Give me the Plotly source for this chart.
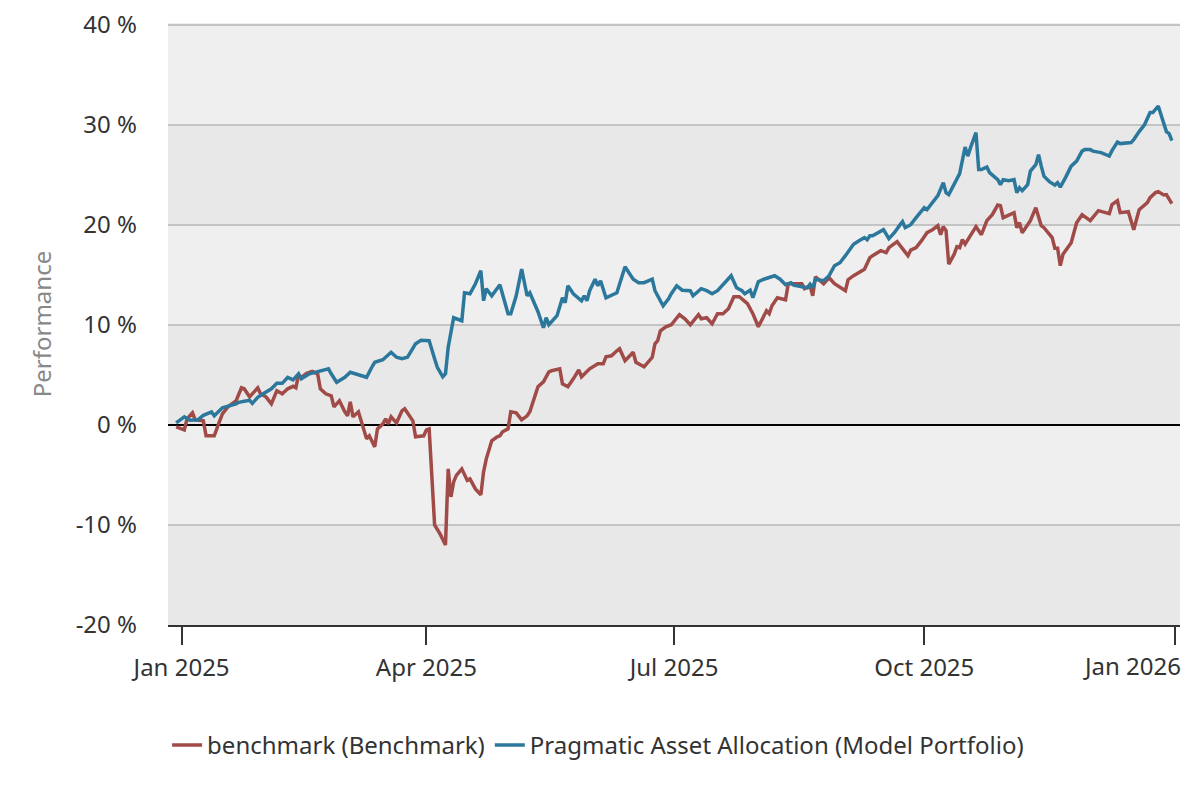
import plotly.graph_objects as go

# benchmark (Benchmark)
bench_dates = [
    "2024-12-30", "2025-01-02", "2025-01-03", "2025-01-05", "2025-01-06", "2025-01-09",
    "2025-01-10", "2025-01-13", "2025-01-15", "2025-01-16", "2025-01-18", "2025-01-21",
    "2025-01-23", "2025-01-24", "2025-01-26", "2025-01-29", "2025-01-30", "2025-02-01",
    "2025-02-03", "2025-02-04", "2025-02-05", "2025-02-07", "2025-02-09", "2025-02-11",
    "2025-02-12", "2025-02-13", "2025-02-14", "2025-02-16", "2025-02-18", "2025-02-20",
    "2025-02-21", "2025-02-23", "2025-02-25", "2025-02-26", "2025-02-28", "2025-03-02",
    "2025-03-03", "2025-03-04", "2025-03-05", "2025-03-07", "2025-03-08", "2025-03-09",
    "2025-03-10", "2025-03-11", "2025-03-13", "2025-03-14", "2025-03-16", "2025-03-17",
    "2025-03-18", "2025-03-19", "2025-03-21", "2025-03-23", "2025-03-24", "2025-03-27",
    "2025-03-28", "2025-03-31", "2025-04-01", "2025-04-02", "2025-04-04", "2025-04-06",
    "2025-04-08", "2025-04-09", "2025-04-10", "2025-04-11", "2025-04-12", "2025-04-14",
    "2025-04-16", "2025-04-17", "2025-04-19", "2025-04-21", "2025-04-22", "2025-04-23",
    "2025-04-25", "2025-04-27", "2025-04-28", "2025-04-29", "2025-05-01", "2025-05-02",
    "2025-05-04", "2025-05-06", "2025-05-08", "2025-05-09", "2025-05-12", "2025-05-14",
    "2025-05-16", "2025-05-17", "2025-05-20", "2025-05-21", "2025-05-23", "2025-05-25",
    "2025-05-27", "2025-05-28", "2025-05-29", "2025-05-31", "2025-06-03", "2025-06-05",
    "2025-06-06", "2025-06-08", "2025-06-10", "2025-06-11", "2025-06-13", "2025-06-16",
    "2025-06-17", "2025-06-20", "2025-06-23", "2025-06-24", "2025-06-25", "2025-06-26",
    "2025-06-28", "2025-06-30", "2025-07-03", "2025-07-05", "2025-07-07", "2025-07-10",
    "2025-07-11", "2025-07-13", "2025-07-15", "2025-07-17", "2025-07-19", "2025-07-21",
    "2025-07-23", "2025-07-25", "2025-07-28", "2025-07-30", "2025-08-01", "2025-08-04",
    "2025-08-05", "2025-08-06", "2025-08-08", "2025-08-11", "2025-08-12", "2025-08-15",
    "2025-08-17", "2025-08-18", "2025-08-20", "2025-08-21", "2025-08-22", "2025-08-25",
    "2025-08-27", "2025-08-29", "2025-08-31", "2025-09-02", "2025-09-03", "2025-09-05",
    "2025-09-09", "2025-09-11", "2025-09-12", "2025-09-15", "2025-09-17", "2025-09-18",
    "2025-09-21", "2025-09-23", "2025-09-25", "2025-09-26", "2025-09-28", "2025-09-30",
    "2025-10-02", "2025-10-04", "2025-10-06", "2025-10-07", "2025-10-08", "2025-10-09",
    "2025-10-10", "2025-10-12", "2025-10-13", "2025-10-14", "2025-10-15", "2025-10-16",
    "2025-10-20", "2025-10-22", "2025-10-24", "2025-10-26", "2025-10-28", "2025-10-29",
    "2025-10-30", "2025-11-03", "2025-11-04", "2025-11-05", "2025-11-06", "2025-11-09",
    "2025-11-11", "2025-11-13", "2025-11-14", "2025-11-17", "2025-11-18", "2025-11-19",
    "2025-11-20", "2025-11-21", "2025-11-24", "2025-11-26", "2025-11-28", "2025-12-01",
    "2025-12-04", "2025-12-08", "2025-12-09", "2025-12-11", "2025-12-12", "2025-12-15",
    "2025-12-17", "2025-12-19", "2025-12-22", "2025-12-23", "2025-12-25", "2025-12-26",
    "2025-12-28", "2025-12-29", "2025-12-31",
]
bench_perf = [
    -0.2, -0.5, 0.6, 1.2, 0.5, 0.4,
    -1.1, -1.1, 0.4, 1.1, 1.8, 2.4,
    3.7, 3.6, 2.8, 3.7, 3.1, 2.8,
    2.1, 2.8, 3.4, 3.1, 3.6, 3.85,
    3.7, 5.0, 4.75, 5.15, 5.35, 5.1,
    3.6, 3.1, 2.9, 1.8, 2.4, 1.3,
    0.9, 2.3, 0.8, 1.3, 0.4, -0.4,
    -1.4, -1.1, -2.2, -0.4, 0.1, 0.6,
    0.1, 0.8, 0.2, 1.4, 1.6, 0.4,
    -1.2, -1.1, -0.5, -0.4, -10.0, -10.9,
    -12.0, -4.4, -7.2, -5.7, -5.05, -4.4,
    -5.55, -5.4, -6.4, -7.0, -4.7, -3.4,
    -1.6, -1.2, -1.1, -0.7, -0.4, 1.3,
    1.2, 0.5, 0.9, 1.3, 3.8, 4.3,
    5.3, 5.4, 5.6, 4.1, 3.8, 4.6,
    5.5, 4.8, 5.1, 5.6, 6.1, 6.1,
    6.8, 6.9, 7.4, 7.6, 6.4, 7.25,
    6.25, 5.8, 6.75, 8.1, 8.4, 9.4,
    9.8, 10.0, 11.0, 10.6, 10.0, 11.0,
    10.6, 10.7, 10.1, 11.1, 11.1, 11.6,
    12.8, 12.8, 12.1, 11.1, 9.8, 11.4,
    11.1, 11.9, 12.7, 12.5, 14.1, 14.1,
    14.1, 13.6, 13.9, 12.9, 14.8, 14.1,
    14.7, 14.1, 13.7, 13.4, 14.5, 14.9,
    15.55, 16.7, 16.9, 17.4, 17.2, 17.7,
    18.3, 17.6, 16.9, 17.45, 17.7, 18.4,
    19.2, 19.5, 19.9, 19.0, 19.8, 19.4,
    16.05, 17.05, 17.8, 17.7, 18.5, 18.05,
    19.8, 19.0, 20.4, 21.0, 21.96, 21.9,
    20.7, 21.2, 19.7, 20.2, 19.2, 20.4,
    21.7, 19.9, 19.7, 18.7, 17.65, 17.65,
    15.9, 17.05, 18.2, 20.2, 21.0, 20.4,
    21.4, 21.1, 22.0, 22.4, 21.2, 21.3,
    19.5, 21.5, 22.2, 22.7, 23.2, 23.3,
    22.96, 23.0, 22.1,
]

# Pragmatic Asset Allocation (Model Portfolio)
model_dates = [
    "2024-12-30", "2025-01-02", "2025-01-04", "2025-01-07", "2025-01-09", "2025-01-12",
    "2025-01-13", "2025-01-16", "2025-01-21", "2025-01-22", "2025-01-24", "2025-01-26",
    "2025-01-27", "2025-01-29", "2025-01-31", "2025-02-01", "2025-02-03", "2025-02-05",
    "2025-02-07", "2025-02-09", "2025-02-11", "2025-02-13", "2025-02-14", "2025-02-17",
    "2025-02-21", "2025-02-24", "2025-02-25", "2025-02-27", "2025-03-02", "2025-03-04",
    "2025-03-07", "2025-03-10", "2025-03-12", "2025-03-13", "2025-03-16", "2025-03-19",
    "2025-03-21", "2025-03-23", "2025-03-25", "2025-03-28", "2025-03-30", "2025-04-02",
    "2025-04-04", "2025-04-05", "2025-04-07", "2025-04-08", "2025-04-09", "2025-04-11",
    "2025-04-12", "2025-04-14", "2025-04-15", "2025-04-17", "2025-04-19", "2025-04-21",
    "2025-04-22", "2025-04-23", "2025-04-25", "2025-04-28", "2025-05-01", "2025-05-02",
    "2025-05-04", "2025-05-06", "2025-05-08", "2025-05-09", "2025-05-12", "2025-05-14",
    "2025-05-15", "2025-05-16", "2025-05-19", "2025-05-21", "2025-05-22", "2025-05-23",
    "2025-05-25", "2025-05-28", "2025-05-29", "2025-05-30", "2025-05-31", "2025-06-02",
    "2025-06-03", "2025-06-04", "2025-06-06", "2025-06-10", "2025-06-13", "2025-06-16",
    "2025-06-18", "2025-06-20", "2025-06-23", "2025-06-24", "2025-06-27", "2025-06-29",
    "2025-06-30", "2025-07-02", "2025-07-04", "2025-07-07", "2025-07-08", "2025-07-11",
    "2025-07-13", "2025-07-15", "2025-07-17", "2025-07-19", "2025-07-22", "2025-07-24",
    "2025-07-26", "2025-07-27", "2025-07-29", "2025-07-30", "2025-08-01", "2025-08-03",
    "2025-08-07", "2025-08-09", "2025-08-11", "2025-08-13", "2025-08-14", "2025-08-19",
    "2025-08-20", "2025-08-21", "2025-08-22", "2025-08-25", "2025-08-27", "2025-08-29",
    "2025-08-31", "2025-09-02", "2025-09-03", "2025-09-05", "2025-09-07", "2025-09-09",
    "2025-09-10", "2025-09-11", "2025-09-12", "2025-09-15", "2025-09-16", "2025-09-18",
    "2025-09-20", "2025-09-22", "2025-09-23", "2025-09-24", "2025-09-26", "2025-09-28",
    "2025-09-30", "2025-10-01", "2025-10-02", "2025-10-04", "2025-10-06", "2025-10-08",
    "2025-10-09", "2025-10-10", "2025-10-12", "2025-10-14", "2025-10-16", "2025-10-17",
    "2025-10-18", "2025-10-20", "2025-10-21", "2025-10-22", "2025-10-24", "2025-10-25",
    "2025-10-28", "2025-10-29", "2025-10-30", "2025-11-01", "2025-11-03", "2025-11-04",
    "2025-11-05", "2025-11-06", "2025-11-08", "2025-11-09", "2025-11-11", "2025-11-12",
    "2025-11-13", "2025-11-14", "2025-11-16", "2025-11-18", "2025-11-19", "2025-11-20",
    "2025-11-22", "2025-11-24", "2025-11-26", "2025-11-28", "2025-11-29", "2025-12-01",
    "2025-12-02", "2025-12-05", "2025-12-08", "2025-12-09", "2025-12-11", "2025-12-12",
    "2025-12-16", "2025-12-17", "2025-12-19", "2025-12-21", "2025-12-23", "2025-12-24",
    "2025-12-26", "2025-12-28", "2025-12-29", "2025-12-30", "2025-12-31",
]
model_perf = [
    0.2, 0.8, 0.45, 0.5, 0.95, 1.3,
    0.9, 1.7, 2.1, 2.25, 2.35, 2.45,
    2.15, 2.75, 3.1, 3.25, 3.6, 4.15,
    4.15, 4.75, 4.5, 5.1, 4.6, 5.1,
    5.4, 5.6, 5.1, 4.25, 4.75, 5.25,
    5.0, 4.75, 5.8, 6.25, 6.5, 7.25,
    6.75, 6.6, 6.75, 8.1, 8.45, 8.4,
    6.6, 5.75, 4.8, 5.1, 7.75, 10.7,
    10.6, 10.4, 13.2, 13.1, 14.1, 15.4,
    12.4, 13.6, 12.9, 14.0, 11.1, 11.1,
    12.9, 15.55, 12.9, 13.2, 11.3, 9.7,
    10.7, 10.0, 10.9, 12.7, 12.2, 13.9,
    13.1, 12.4, 12.9, 12.4, 13.4, 14.55,
    13.9, 14.4, 12.7, 13.2, 15.8, 14.55,
    14.2, 14.2, 14.55, 13.4, 11.9, 12.6,
    13.1, 13.9, 13.45, 13.4, 12.9, 13.6,
    13.4, 13.1, 13.4, 14.05, 14.9, 13.7,
    13.4, 13.1, 13.45, 12.7, 14.3, 14.55,
    14.9, 14.55, 14.0, 14.2, 13.95, 13.7,
    14.05, 13.7, 14.55, 14.4, 14.9, 15.9,
    16.2, 16.9, 17.3, 18.05, 18.4, 18.7,
    18.5, 18.9, 18.9, 19.3, 19.5, 18.6,
    19.2, 19.95, 20.3, 19.7, 20.0, 20.7,
    21.4, 21.7, 21.5, 22.2, 22.9, 24.2,
    23.2, 23.0, 24.0, 25.1, 27.75, 26.85,
    27.7, 29.2, 25.5, 25.5, 25.75, 25.2,
    24.5, 24.0, 24.5, 24.4, 24.5, 23.2,
    23.7, 23.4, 24.0, 25.35, 26.0, 27.0,
    25.85, 24.85, 24.3, 23.95, 24.2, 23.75,
    24.75, 25.85, 26.35, 27.35, 27.5, 27.5,
    27.35, 27.2, 26.85, 27.4, 28.25, 28.1,
    28.2, 28.5, 29.3, 30.0, 31.2, 31.2,
    31.85, 30.2, 29.3, 29.1, 28.4,
]

y_ticks = [-20, -10, 0, 10, 20, 30, 40]
y_labels = ["-20 %", "-10 %", "0 %", "10 %", "20 %", "30 %", "40 %"]
x_ticks = ["2025-01-01", "2025-04-01", "2025-07-01", "2025-10-01", "2026-01-01"]
x_labels = ["Jan 2025", "Apr 2025", "Jul 2025", "Oct 2025", "Jan 2026"]

font_family = "Noto Sans, Open Sans, sans-serif"
text_color = "#333333"

fig = go.Figure()

fig.add_trace(go.Scatter(
    x=bench_dates, y=bench_perf, mode="lines",
    name="benchmark (Benchmark)",
    line=dict(color="#a04b47", width=3.5),
))
fig.add_trace(go.Scatter(
    x=model_dates, y=model_perf, mode="lines",
    name="Pragmatic Asset Allocation (Model Portfolio)",
    line=dict(color="#2b789c", width=3.5),
))

# alternating background bands
for lo, hi in zip(y_ticks[:-1], y_ticks[1:]):
    if (lo // 10) % 2 == 0:
        fig.add_shape(type="rect", xref="paper", yref="y", x0=0, x1=1, y0=lo, y1=hi,
                      fillcolor="#e8e8e8", line_width=0, layer="below")

# last x label sits inside the chart edge, like the original
fig.add_annotation(x=x_ticks[-1], y=0, xref="x", yref="paper",
                   text=x_labels[-1], showarrow=False,
                   xanchor="right", yanchor="middle", xshift=8, yshift=-40,
                   font=dict(size=24, color=text_color))

fig.update_layout(
    width=1200, height=800,
    margin=dict(l=160, r=28, t=15, b=183),
    paper_bgcolor="white",
    plot_bgcolor="#efefef",
    font=dict(family=font_family, size=24, color=text_color),
    showlegend=True,
    legend=dict(orientation="h", x=0.425, xanchor="center", y=-0.2, yanchor="middle",
                font=dict(size=24, color=text_color)),
    xaxis=dict(
        range=["2024-12-27", "2026-01-03"],
        tickvals=x_ticks, ticktext=x_labels[:-1] + [""],
        ticks="outside", ticklen=18, tickwidth=1.5, tickcolor=text_color,
        ticklabelstandoff=2,
        showline=True, linecolor=text_color, linewidth=1.5,
        showgrid=False, zeroline=False, automargin=False,
        tickfont=dict(size=24, color=text_color),
    ),
    yaxis=dict(
        range=[-20, 40.15],
        tickvals=y_ticks, ticktext=y_labels,
        showgrid=True, gridcolor="#c4c4c4", gridwidth=2,
        zeroline=True, zerolinecolor="#000000", zerolinewidth=2,
        showline=False, ticks="", automargin=False,
        ticklabelstandoff=30, ticklabeloverflow="allow",
        tickfont=dict(size=24, color=text_color),
        title=dict(text="Performance", font=dict(size=24, color="#888888"), standoff=17),
    ),
)

fig.write_html("out.html")
